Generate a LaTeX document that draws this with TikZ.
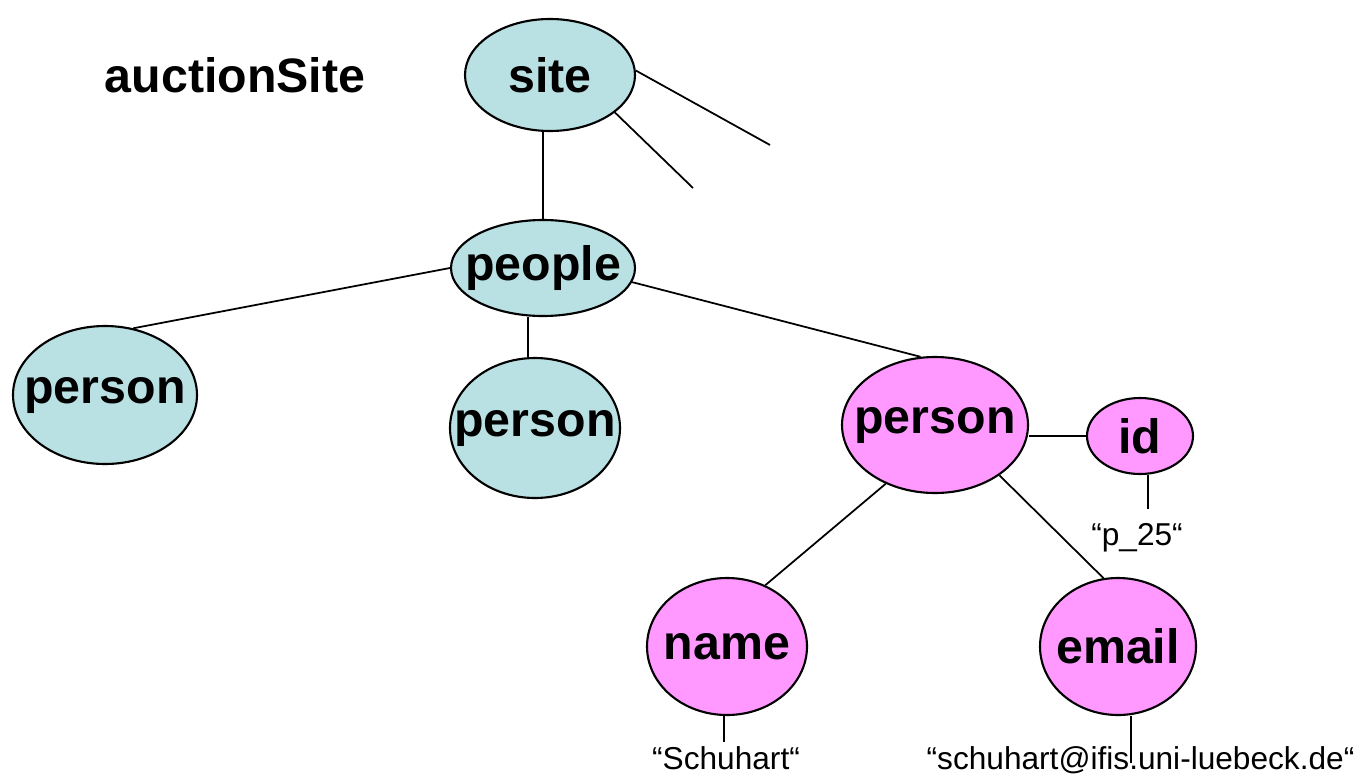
\documentclass[tikz,border=0pt]{standalone}
\usepackage{fontspec}
\setmainfont{Liberation Sans}
\usetikzlibrary{shapes,positioning,calc}

\definecolor{tealfill}{HTML}{B9E0E3}
\definecolor{pinkfill}{HTML}{FF99FF}

\begin{document}
\begin{tikzpicture}[node distance=1cm, auto]

% Define styles
\tikzstyle{elem} = [ellipse, draw=black, line width=1.2pt, inner sep=-1.5cm, text centered, font=\fontsize{27.5}{33}\selectfont\bfseries]
\tikzstyle{plain} = [elem, fill=tealfill]
\tikzstyle{hit} = [elem, fill=pinkfill]
\tikzstyle{value} = [anchor=base, inner sep=1pt, font=\fontsize{18}{22}\selectfont]
\tikzstyle{line} = [line width=1pt, draw=black]

\useasboundingbox (0,0) rectangle (27.26,-15.56);

% Document name
\node (doc) at (4.7,-1.5) [font=\fontsize{27.5}{33}\selectfont\bfseries] {auctionSite};

% Upper levels
\node (site) at (11.0,-1.5) [plain, minimum width=3.4cm, minimum height=2.24cm] {site};
\node (people) at (10.86,-5.36) [plain, minimum width=3.68cm, minimum height=1.92cm] {people};

% Persons
\node (person1) at (2.1,-7.9) [plain, minimum width=3.68cm, minimum height=2.76cm] {person};
\node (person2) at (10.7,-8.56) [plain, minimum width=3.4cm, minimum height=2.8cm] {person};
\node (person3) at (18.7,-8.5) [hit, minimum width=3.72cm, minimum height=2.72cm] {person};

% Children of the selected person
\node (id) at (22.8,-8.72) [hit, minimum width=2.12cm, minimum height=1.52cm] {id};
\node (name) at (14.54,-12.93) [hit, minimum width=3.2cm, minimum height=2.74cm] {name};
\node (email) at (22.36,-12.93) [hit, minimum width=3.12cm, minimum height=2.74cm] {email};

% Text values
\node (idval) at (22.74,-10.9) [value, inner ysep=8pt] {“p\_25“};
\node (nameval) at (14.52,-15.38) [value, inner ysep=2pt] {“Schuhart“};
\node (emailval) at (22.81,-15.38) [value] {“schuhart@ifis.uni-luebeck.de“};

% Further subtrees of site
\coordinate (moreA) at (15.4,-2.9);
\coordinate (moreB) at (13.86,-3.76);
\draw [line] (site.3) -- (moreA);
\draw [line] (site.-30) -- (moreB);

% Edges
\coordinate (p2link) at ($(people.south)+(-0.3,0)$);
\draw [line] (people.north) -- (people.north |- site.south);
\draw [line] (people.180) -- (person1.67);
\draw [line] (p2link) -- (p2link |- person2.north);
\draw [line] (people.-9) -- (person3.102);
\draw [line] (person3.east |- id.west) -- (id.west);
\draw [line] (person3.230) -- (name.58);
\draw [line] (person3.-38) -- (email.102);

% Values
\coordinate (idfoot) at ($(id.south)+(0.16,0)$);
\coordinate (namefoot) at ($(name.south)+(-0.06,0)$);
\coordinate (emailfoot) at ($(email.south)+(0.26,0)$);
\draw [line] (idfoot) -- (idfoot |- idval.north);
\draw [line] (namefoot) -- (namefoot |- nameval.north);
\draw [line] (emailfoot) -- ($(emailfoot |- emailval.base)+(0,0.12)$);

\end{tikzpicture}
\end{document}
